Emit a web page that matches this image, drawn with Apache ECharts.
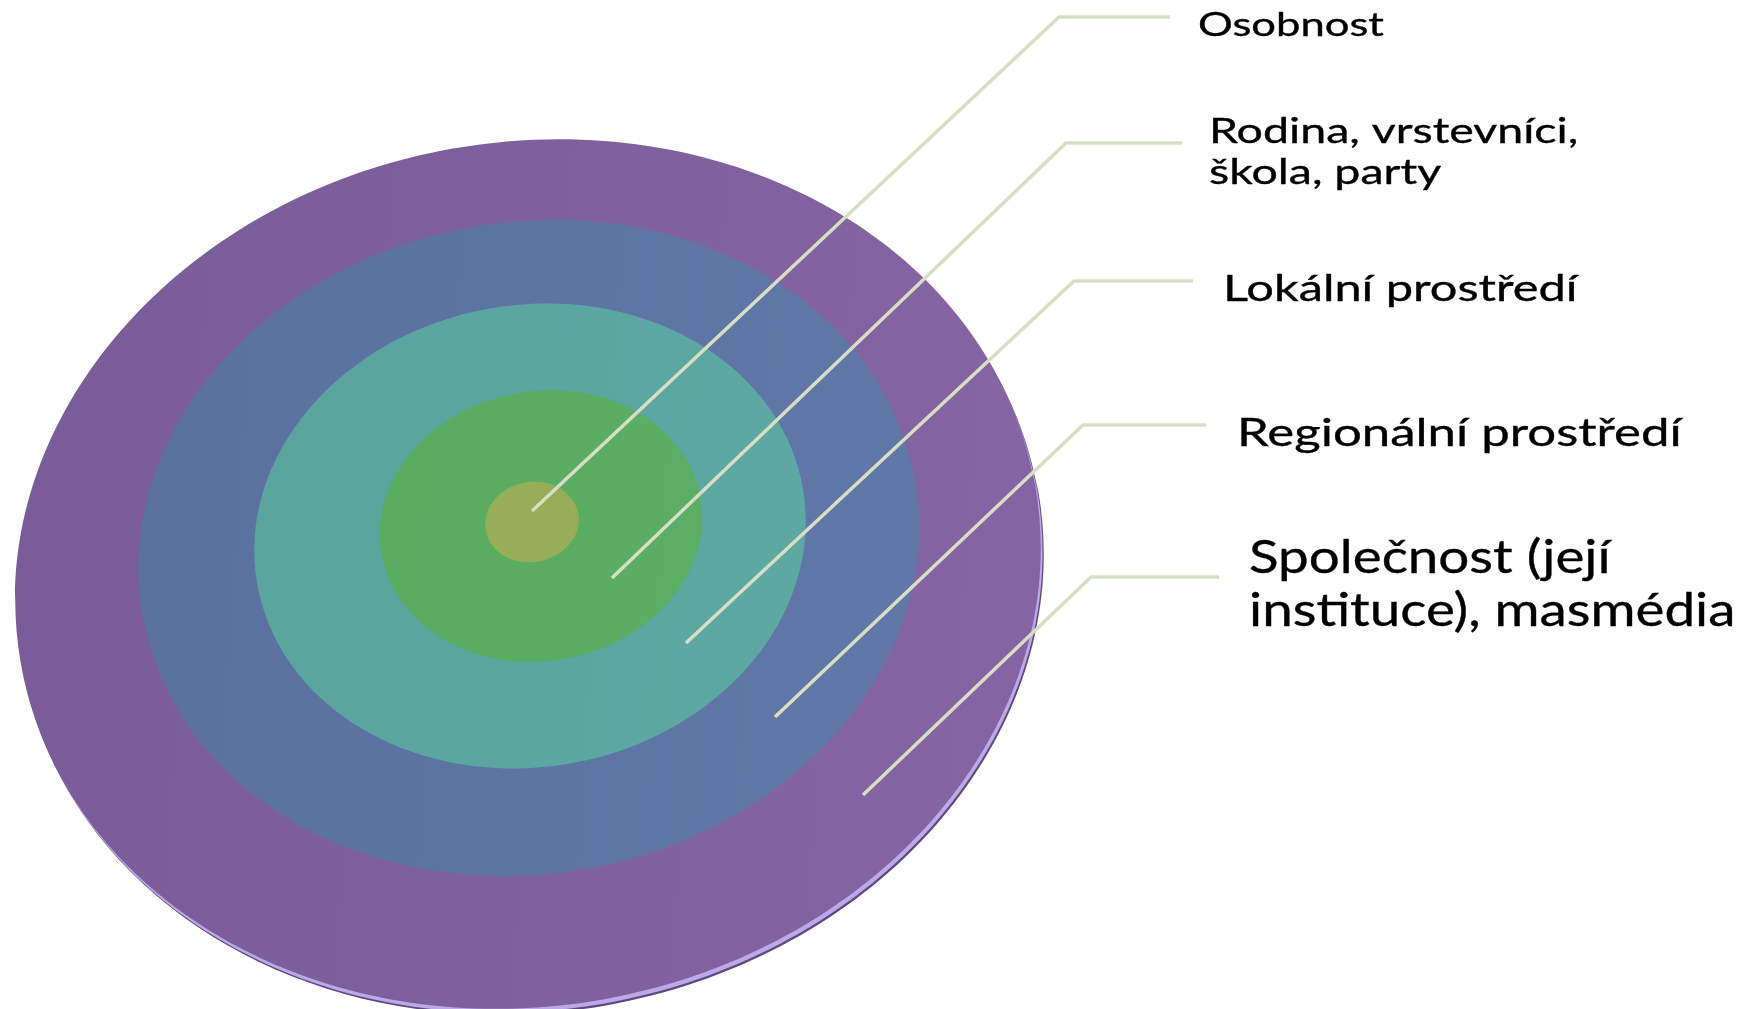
<!DOCTYPE html>
<html>
<head>
<meta charset="utf-8">
<script src="https://cdn.jsdelivr.net/npm/echarts@6/dist/echarts.min.js"></script>
<style>html,body{margin:0;padding:0;background:#ffffff;}#chart{width:1751px;height:1009px;}</style>
</head>
<body>
<div id="chart"></div>
<script>
// ---- data (diagram units) ----
const ringNames   = ['Společnost', 'Regionální prostředí', 'Lokální prostředí', 'Rodina', 'Osobnost'];
const ringCenterX = [528, 529, 530, 541, 532];
const ringCenterY = [574, 548, 536, 526, 522];
const ringRadiusX = [515, 392, 277, 162, 47];
const ringRadiusY = [432, 326, 231, 135, 40];

const labelTexts  = ['Osobnost', 'Rodina, vrstevníci,\nškola, party', 'Lokální prostředí', 'Regionální prostředí', 'Společnost (její\ninstituce), masmédia'];
const leaderStartX = [532, 612, 686, 775, 863];
const leaderStartY = [511, 578, 643, 717, 795];
const leaderElbowX = [1059, 1066, 1074, 1083, 1091];
const leaderElbowY = [17, 143, 281, 425, 577];
const leaderEndX   = [1170, 1182, 1193, 1206, 1219];
const labelX = [1198, 1209, 1223, 1237, 1249];
const labelY = [25, 152, 288.5, 433, 585];

// ---- styles ----
const ringFills = [
  ['#785b97', '#8464a2'],
  ['#5a709f', '#6077a7'],
  ['#59a59e', '#5da8a2'],
  ['#5aac61', '#5cad65'],
  ['#97ae59', '#97ae59']
];
const labelFontSize   = [33.5, 35.5, 37.5, 39.5, 46];
const labelLineHeight = [37, 41, 41, 44, 53];
const labelScaleX     = [1.3, 1.31, 1.3, 1.29, 1.19];
const tilt = 10 * Math.PI / 180;

const ringData = ringNames.map((n, i) => ({ name: n, value: [ringCenterX[i], ringCenterY[i], ringRadiusX[i], ringRadiusY[i]] }));
const leaderData = labelTexts.map((t, i) => ({ name: t, value: [leaderStartX[i], leaderStartY[i], leaderElbowX[i], leaderElbowY[i], leaderEndX[i], leaderElbowY[i]] }));
const labelData = labelTexts.map((t, i) => ({ name: t, value: [labelX[i], labelY[i]] }));

function ellipseEl(api, dx, dy, fill) {
  const c = api.coord([api.value(0), api.value(1)]);
  const s = api.size([api.value(2), api.value(3)]);
  return {
    type: 'ellipse',
    x: c[0] + dx, y: c[1] + dy,
    rotation: tilt,
    shape: { cx: 0, cy: 0, rx: s[0], ry: s[1] },
    style: { fill: fill }
  };
}

const chart = echarts.init(document.getElementById('chart'), null, { renderer: 'canvas' });
chart.setOption({
  animation: false,
  backgroundColor: '#ffffff',
  grid: { left: 0, right: 0, top: 0, bottom: 0 },
  xAxis: { type: 'value', min: 0, max: 1751, show: false },
  yAxis: { type: 'value', min: 0, max: 1009, inverse: true, show: false },
  series: [
    {
      type: 'custom', name: 'rim', silent: true,
      data: ringData.slice(0, 1),
      renderItem: function (params, api) {
        return {
          type: 'group',
          children: [
            ellipseEl(api, 3, 6, '#5e4b7e'),
            ellipseEl(api, 1.8, 4, '#bca8ea')
          ]
        };
      }
    },
    {
      type: 'custom', name: 'rings', silent: true,
      data: ringData,
      renderItem: function (params, api) {
        const f = ringFills[params.dataIndex];
        return ellipseEl(api, 0, 0, {
          type: 'linear', x: 0, y: 0, x2: 1, y2: 0.3,
          colorStops: [{ offset: 0, color: f[0] }, { offset: 1, color: f[1] }]
        });
      }
    },
    {
      type: 'custom', name: 'leaders', silent: true,
      data: leaderData,
      renderItem: function (params, api) {
        const p0 = api.coord([api.value(0), api.value(1)]);
        const p1 = api.coord([api.value(2), api.value(3)]);
        const p2 = api.coord([api.value(4), api.value(5)]);
        return {
          type: 'polyline',
          shape: { points: [p0, p1, p2] },
          style: { stroke: '#d6dfc3', lineWidth: 3.5, fill: null, lineJoin: 'miter' }
        };
      }
    },
    {
      type: 'custom', name: 'labels', silent: true,
      data: labelData,
      renderItem: function (params, api) {
        const i = params.dataIndex;
        const p = api.coord([api.value(0), api.value(1)]);
        return {
          type: 'text',
          x: p[0], y: p[1],
          scaleX: labelScaleX[i], scaleY: 1,
          style: {
            text: labelTexts[i],
            x: 0, y: 0,
            fill: '#000000',
            stroke: '#000000',
            lineWidth: 0.35,
            fontFamily: 'Lato',
            fontSize: labelFontSize[i],
            lineHeight: labelLineHeight[i],
            align: 'left',
            verticalAlign: 'middle'
          }
        };
      }
    }
  ]
});
</script>
</body>
</html>
